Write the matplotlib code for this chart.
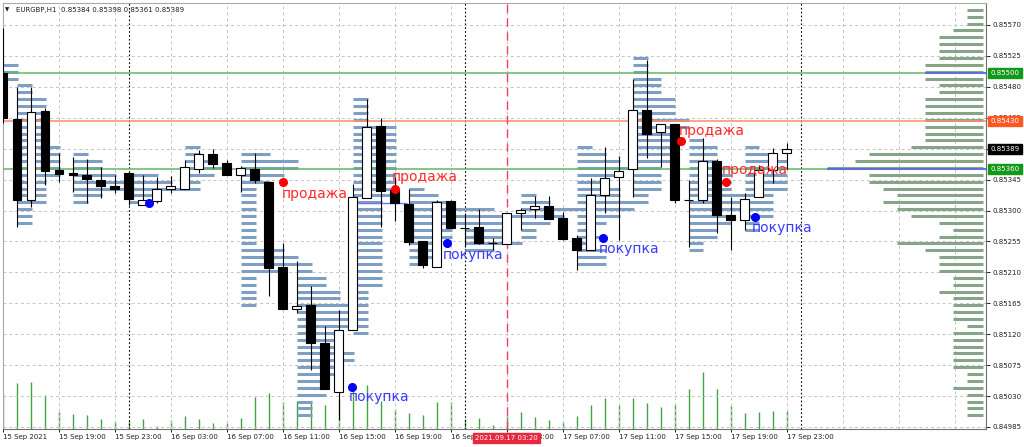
import numpy as np
import matplotlib.pyplot as plt

# EURGBP H1, bars from 15 Sep 2021 15:00 to 17 Sep 2021 23:00
opens = [0.85500, 0.85433, 0.85316, 0.85445, 0.85359, 0.85355, 0.85351, 0.85345, 0.85335, 0.85354,
         0.85308, 0.85314, 0.85331, 0.85332, 0.85361, 0.85382, 0.85369, 0.85351, 0.85360, 0.85342,
         0.85218, 0.85157, 0.85162, 0.85107, 0.85036, 0.85126, 0.85318, 0.85423, 0.85330, 0.85310,
         0.85256, 0.85218, 0.85314, 0.85275, 0.85276, 0.85253, 0.85251, 0.85297, 0.85302, 0.85307,
         0.85289, 0.85260, 0.85243, 0.85323, 0.85349, 0.85360, 0.85447, 0.85414, 0.85426, 0.85316,
         0.85316, 0.85372, 0.85294, 0.85286, 0.85319, 0.85359, 0.85384]
highs = [0.85566, 0.85480, 0.85480, 0.85449, 0.85384, 0.85378, 0.85375, 0.85364, 0.85352, 0.85356,
         0.85352, 0.85349, 0.85350, 0.85374, 0.85388, 0.85389, 0.85374, 0.85365, 0.85384, 0.85342,
         0.85252, 0.85226, 0.85190, 0.85132, 0.85155, 0.85339, 0.85462, 0.85434, 0.85349, 0.85332,
         0.85256, 0.85315, 0.85315, 0.85297, 0.85302, 0.85260, 0.85297, 0.85303, 0.85321, 0.85321,
         0.85298, 0.85264, 0.85347, 0.85393, 0.85379, 0.85492, 0.85519, 0.85426, 0.85426, 0.85344,
         0.85405, 0.85375, 0.85320, 0.85325, 0.85366, 0.85391, 0.85398]
lows = [0.85427, 0.85276, 0.85305, 0.85337, 0.85341, 0.85327, 0.85311, 0.85318, 0.85326, 0.85308,
        0.85308, 0.85311, 0.85325, 0.85332, 0.85354, 0.85362, 0.85351, 0.85327, 0.85340, 0.85175,
        0.85157, 0.85151, 0.85068, 0.85040, 0.84995, 0.85126, 0.85318, 0.85276, 0.85284, 0.85250,
        0.85216, 0.85218, 0.85275, 0.85247, 0.85251, 0.85243, 0.85251, 0.85271, 0.85289, 0.85288,
        0.85257, 0.85213, 0.85243, 0.85297, 0.85257, 0.85320, 0.85377, 0.85364, 0.85311, 0.85247,
        0.85311, 0.85267, 0.85242, 0.85271, 0.85319, 0.85340, 0.85361]
closes = [0.85435, 0.85316, 0.85443, 0.85358, 0.85353, 0.85351, 0.85346, 0.85335, 0.85331, 0.85317,
          0.85315, 0.85331, 0.85335, 0.85364, 0.85382, 0.85368, 0.85351, 0.85362, 0.85344, 0.85216,
          0.85157, 0.85161, 0.85107, 0.85040, 0.85126, 0.85319, 0.85421, 0.85328, 0.85311, 0.85254,
          0.85220, 0.85312, 0.85275, 0.85274, 0.85252, 0.85252, 0.85297, 0.85301, 0.85307, 0.85288,
          0.85259, 0.85243, 0.85323, 0.85348, 0.85358, 0.85447, 0.85412, 0.85426, 0.85316, 0.85316,
          0.85372, 0.85294, 0.85286, 0.85317, 0.85359, 0.85383, 0.85389]
volumes = [36, 46, 47, 34, 17, 15, 14, 10, 8, 8, 10, 3, 9, 13, 10, 6, 6, 11, 32, 36,
           27, 28, 27, 24, 30, 44, 44, 28, 20, 16, 14, 27, 27, 10, 11, 4, 14, 17, 12, 9,
           7, 13, 24, 31, 24, 31, 26, 22, 25, 40, 57, 40, 23, 16, 17, 18, 18]

time_labels = ["15 Sep 2021", "15 Sep 19:00", "15 Sep 23:00", "16 Sep 03:00", "16 Sep 07:00",
               "16 Sep 11:00", "16 Sep 15:00", "16 Sep 19:00", "16 Sep 23:00", "17 Sep 03:00",
               "17 Sep 07:00", "17 Sep 11:00", "17 Sep 15:00", "17 Sep 19:00", "17 Sep 23:00"]
label_bars = [0, 4, 8, 12, 16, 20, 24, 28, 32, 36, 40, 44, 48, 52, 56]
day_breaks = [9, 33, 57]
price_ticks = [0.85570, 0.85525, 0.85480, 0.85435, 0.85390, 0.85345, 0.85300,
               0.85255, 0.85210, 0.85165, 0.85120, 0.85075, 0.85030, 0.84985]

# horizontal levels
levels = [0.85500, 0.85430, 0.85360]

# 4-hour volume profiles: first bar, top level, row widths (in bars), 1 pip per row
prof_start = [-3, 1, 5, 9, 13, 17, 21, 25, 29, 33, 37, 41, 45, 49, 53]
prof_top = [0.85512, 0.85482, 0.85382, 0.85352, 0.85392, 0.85382, 0.85222, 0.85462,
            0.85332, 0.85302, 0.85322, 0.85392, 0.85522, 0.85402, 0.85392]
prof_width = [
    [4, 4, 4],
    [1, 1, 2, 2, 2, 2, 2, 2, 2, 3, 3, 3, 3, 3, 2, 2, 2, 2, 1, 1, 1],
    [1, 2, 2, 3, 4, 4, 2, 1],
    [2, 3, 4, 2, 1],
    [1, 1, 2, 3, 2, 1, 1],
    [2, 4, 4, 3, 2, 1, 1, 1, 1, 1, 1, 1, 1, 1, 3, 4, 4, 3, 1, 1, 1, 1, 1],
    [1, 1, 2, 2, 3, 3, 4, 4, 4, 4, 3, 3, 3, 4, 4, 3, 3, 2, 2, 2, 1, 1, 1],
    [1, 1, 1, 1, 3, 3, 3, 3, 3, 3, 3, 3, 3, 3, 3, 2, 2, 2, 2, 2, 2, 2, 2, 2, 2, 2, 2, 2,
     1, 1, 1, 1, 1, 1, 1],
    [1, 2, 3, 4, 4, 4, 3, 3, 2, 2, 2, 1],
    [2, 4, 3, 3, 3, 4, 2],
    [1, 2, 4, 3, 2, 1, 1],
    [1, 2, 3, 4, 3, 2, 3, 3, 4, 4, 3, 2, 1, 2, 1, 2, 2, 2],
    [1, 1, 1, 2, 2, 2, 3, 3, 3, 4, 4, 3, 3, 3, 3, 3, 2, 2, 2, 2, 1, 1],
    [1, 2, 2, 2, 3, 3, 3, 3, 4, 4, 4, 3, 3, 2, 2, 1, 1],
    [1, 2, 3, 3, 3, 3, 3, 2, 2, 2, 2, 1, 1],
]
poc_level, poc_from, poc_to = 0.85311, 25.4, 28.9

# session profile on the right edge (row widths in bars)
rprof_top = 0.85592
rprof_width = [1, 1, 1, 2, 3, 3, 3, 3, 4, 4, 4, 3, 3, 4, 4, 4, 4, 4, 4, 4,
               5, 8, 9, 11, 8, 8, 7, 6, 7, 6, 5, 3, 2, 3, 6, 4, 3, 3, 3, 2,
               2, 3, 2, 2, 2, 2, 1, 2, 2, 2, 2, 2, 2, 1, 1, 2, 1, 1, 1, 1]
rprof_marks = [0.85500, 0.85360]
rprof_mark_width = [4, 11]

# signals
sig_bar = [10.40, 20.04, 24.97, 28.02, 31.71, 42.86, 48.45, 51.64, 53.76]
sig_price = [0.85311, 0.85341, 0.85043, 0.85331, 0.85252, 0.85260, 0.85401, 0.85341, 0.85291]
sig_kind = ["buy", "sell", "buy", "sell", "buy", "buy", "sell", "sell", "buy"]
sig_text = ["", "продажа", "покупка", "продажа", "покупка", "покупка", "продажа", "продажа", "покупка"]
cursor_bar = 36
cursor_text = "2021.09.17 03:20"

# ---------------------------------------------------------------- drawing
W, H = 1024, 447
fig = plt.figure(figsize=(W / 100, H / 100), dpi=100)
ax = fig.add_axes([3 / W, 18 / H, 983 / W, 426 / H])
axv = ax.twinx()
axv.set_zorder(ax.get_zorder() - 1)
ax.patch.set_visible(False)
axv.set_ylim(0, 426)
axv.set_yticks([])
for sp in axv.spines.values():
    sp.set_visible(False)

idx = np.arange(len(opens))
o = np.array(opens)
c = np.array(closes)

# grid
grid_kw = dict(color="#c4c4c4", lw=0.7, ls=(0, (3, 3)), zorder=0.5)
for gx in range(4, 70, 4):
    ax.axvline(gx, **grid_kw)
for gy in price_ticks:
    ax.axhline(gy, **grid_kw)
for d in day_breaks:
    ax.axvline(d, color="black", lw=0.8, ls=(0, (1.5, 2)), zorder=0.6)

# volumes
axv.vlines(idx, 0, volumes, color="#3ea53e", lw=1.0)

# profiles
for s, top, w in zip(prof_start, prof_top, prof_width):
    lv = top - 0.0001 * np.arange(len(w))
    ax.hlines(lv, s, s + np.array(w) + 0.05, color="#7e9ec3", lw=2.2, zorder=2)
rl = rprof_top - 0.0001 * np.arange(len(rprof_width))
ax.hlines(rl, 70 - np.array(rprof_width) - 0.1, 70, color="#86a486", lw=2.2, zorder=2)

# levels
level_colors = ["#62b862", "#ff8c66", "#62b862"]
box_colors = ["#12991a", "#ff5722", "#12991a"]
for lv, lc in zip(levels, level_colors):
    ax.axhline(lv, color=lc, lw=1.1, zorder=3)
for lv, w in zip(rprof_marks, rprof_mark_width):
    ax.hlines(lv, 70 - w - 0.1, 71, color="#5a5aff", lw=1.1, zorder=3.1)
ax.hlines(poc_level, poc_from, poc_to, color="#7070ff", lw=1.0, zorder=3.1)

ax.axvline(cursor_bar, color="#ff3a5a", lw=1.0, ls=(0, (6, 4)), zorder=3.2)

# candles
ax.vlines(idx, lows, highs, color="black", lw=0.8, zorder=5)
fills = ["white" if cc > oo else "black" for oo, cc in zip(o, c)]
ax.bar(idx, np.abs(c - o), bottom=np.minimum(o, c), width=0.64, color=fills,
       edgecolor="black", linewidth=0.8, zorder=6)

# signals
sig_col = {"buy": "#0000ff", "sell": "#ff0000"}
txt_col = {"buy": "#3a3aff", "sell": "#ff2a2a"}
txt_off = [(0, 0), (-2, -12), (-4, -10), (-3, 12), (-4, -12), (-4, -11), (-2, 10), (-4, 12), (-4, -11)]
for x, p, k, t, off in zip(sig_bar, sig_price, sig_kind, sig_text, txt_off):
    ax.plot(x, p, "o", color=sig_col[k], ms=5.5, zorder=8)
    if t:
        ax.annotate(t, (x, p), xytext=off, textcoords="offset pixels", color=txt_col[k],
                    fontsize=10, ha="left", va="center", zorder=9)

# axes
ax.set_xlim((3 - 2.7) / 14, (986 - 2.7) / 14)
ax.set_ylim(0.84982, 0.85602)
ax.yaxis.tick_right()
ax.set_yticks(price_ticks)
ax.set_yticklabels([f"{p:.5f}" for p in price_ticks])
ax.set_xticks(label_bars)
ax.set_xticklabels(time_labels, ha="left")
ax.tick_params(axis="y", labelsize=5, length=3, width=0.7, pad=1.5, colors="#202020")
ax.tick_params(axis="x", labelsize=5, length=2.5, width=0.7, pad=1.0, colors="#202020")
for name, sp in ax.spines.items():
    sp.set_color("#707070" if name in ("bottom", "right") else "#a8a8a8")
    sp.set_linewidth(0.8)

# price boxes on the right axis
box_levels = levels + [closes[-1]]
for lv, bc in zip(box_levels, box_colors + ["#000000"]):
    ax.text(1.0045, lv, f"{lv:.5f}", transform=ax.get_yaxis_transform(), fontsize=5,
            color="white", ha="left", va="center", zorder=10, clip_on=False,
            bbox=dict(boxstyle="square,pad=0.3", fc=bc, ec=bc))

ax.text(cursor_bar, -0.021, cursor_text, transform=ax.get_xaxis_transform(), fontsize=5,
        color="white", ha="center", va="center", zorder=10, clip_on=False,
        bbox=dict(boxstyle="square,pad=0.3", fc="#e8283f", ec="#e8283f"))

# header
fig.text(5 / W, 1 - 10 / H, "▼", fontsize=4, va="center", color="#202020")
fig.text(16 / W, 1 - 10 / H,
         f"EURGBP,H1  {opens[-1]:.5f} {highs[-1]:.5f} {lows[-1]:.5f} {closes[-1]:.5f}",
         fontsize=5, va="center", color="#202020")

fig.savefig("out.png", dpi=100)
